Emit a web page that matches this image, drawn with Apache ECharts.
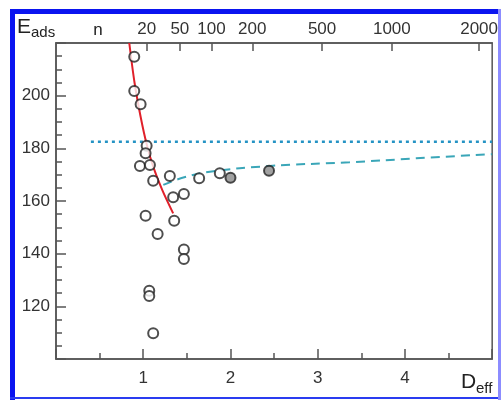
<!DOCTYPE html>
<html>
<head>
<meta charset="utf-8">
<style>
  html, body { margin: 0; padding: 0; background: #fff; }
  #chart { width: 501px; height: 400px; }
</style>
<script src="https://cdn.jsdelivr.net/npm/echarts@6/dist/echarts.min.js"></script>
</head>
<body>
<div id="chart"></div>
<script>
// open circles: D_eff / E_ads
var openD = [0.897, 0.897, 0.97, 1.039, 1.027, 0.962, 1.077, 1.114, 1.305, 1.641, 1.343, 1.466,
  1.027, 1.355, 1.165, 1.466, 1.466, 1.069, 1.069, 1.114, 1.878]
var openE = [214.8, 201.8, 196.7, 181.0, 178.1, 173.3, 173.7, 167.7, 169.5, 168.6, 161.4, 162.7,
  154.4, 152.5, 147.5, 141.6, 138.0, 125.9, 123.9, 109.8, 170.5]
// filled (gray) circles
var grayD = [2.0, 2.442]
var grayE = [168.8, 171.5]
// red curve
var redD = [0.84, 0.90, 0.97, 1.04, 1.12, 1.22, 1.343]
var redE = [220, 205, 192, 181.5, 172.5, 164, 155.3]
// cyan dashed curve
var cyanD = [1.23, 1.45, 1.763, 2.45, 3.365, 4.13, 5.0]
var cyanE = [166.1, 168.8, 171.1, 173.3, 174.7, 176.2, 177.8]
// dotted horizontal line
var limitE = 182.5
var limitD = [0.4, 5]
// top axis: n labels and their D_eff positions
var nLabels = ['20', '50', '100', '200', '500', '1000', '2000']
var nPos = [1.039, 1.42, 1.782, 2.25, 3.05, 3.85, 4.85]

function pairs(xs, ys) {
  return xs.map(function (x, i) { return [x, ys[i]] })
}

(function () {
  var font = 'Liberation Sans, Arial, sans-serif'
  var axisColor = '#555'
  var option = {
    animation: false,
    grid: {
      left: 56, right: 7, top: 43, bottom: 41,
      show: true, borderColor: axisColor, borderWidth: 1.5
    },
    xAxis: [
      {
        type: 'value', min: 0, max: 5, interval: 1,
        axisLine: { onZero: false, lineStyle: { color: axisColor, width: 1.5 } },
        axisTick: { inside: true, length: 10, lineStyle: { color: axisColor, width: 1.5 } },
        minorTick: { show: true, splitNumber: 2, length: 6, lineStyle: { color: axisColor, width: 1.5 } },
        splitLine: { show: false },
        axisLabel: {
          margin: 11, color: '#333', fontSize: 17, fontFamily: font,
          formatter: function (v) { return (v === 0 || v === 5) ? '' : v }
        }
      },
      {
        type: 'value', min: 0, max: 5, position: 'top',
        axisLine: { onZero: false, lineStyle: { color: axisColor, width: 1.5 } },
        axisTick: { inside: true, length: 8, customValues: nPos, lineStyle: { color: axisColor, width: 1.5 } },
        splitLine: { show: false },
        axisLabel: {
          margin: 5, color: '#333', fontSize: 17, fontFamily: font,
          customValues: nPos,
          formatter: function (v) {
            var i = nPos.indexOf(v)
            return i >= 0 ? nLabels[i] : ''
          }
        }
      }
    ],
    yAxis: {
      type: 'value', min: 100, max: 220, interval: 20,
      axisLine: { show: true, onZero: false, lineStyle: { color: axisColor, width: 1.5 } },
      axisTick: { show: true, inside: true, length: 10, lineStyle: { color: axisColor, width: 1.5 } },
      minorTick: { show: true, splitNumber: 4, length: 6, lineStyle: { color: axisColor, width: 1.5 } },
      splitLine: { show: false },
      axisLabel: {
        margin: 6, color: '#333', fontSize: 17, fontFamily: font,
        formatter: function (v) { return (v === 100 || v === 220) ? '' : v }
      }
    },
    series: [
      {
        type: 'line', data: pairs(limitD, [limitE, limitE]), symbol: 'none',
        lineStyle: { color: '#2593c4', width: 2.5, type: [3, 4] }, z: 1
      },
      {
        type: 'line', data: pairs(cyanD, cyanE), symbol: 'none', smooth: 0.4,
        lineStyle: { color: '#3aa6b8', width: 2, type: [9, 6] }, z: 1
      },
      {
        type: 'line', data: pairs(redD, redE), symbol: 'none', smooth: 0.3,
        lineStyle: { color: '#e0202a', width: 2 }, z: 2
      },
      {
        type: 'scatter', data: pairs(openD, openE), symbol: 'circle', symbolSize: 10,
        itemStyle: { color: '#fff', borderColor: '#222', borderWidth: 2 }, z: 5
      },
      {
        type: 'scatter', data: pairs(grayD, grayE), symbol: 'circle', symbolSize: 10,
        itemStyle: { color: '#8a8a8a', borderColor: '#222', borderWidth: 2 }, z: 5
      }
    ],
    graphic: [
      // blue frame
      { type: 'rect', shape: { x: 10, y: 9, width: 5, height: 391 }, style: { fill: '#0a14f0' } },
      { type: 'rect', shape: { x: 10, y: 9, width: 491, height: 5 }, style: { fill: '#0a14f0' } },
      { type: 'rect', shape: { x: 10, y: 397, width: 491, height: 2 }, style: { fill: '#2a3cf0' } },
      { type: 'rect', shape: { x: 498, y: 9, width: 3, height: 391 }, style: { fill: '#8c8cff' } },
      // axis titles
      { type: 'text', x: 17, y: 27, style: { text: 'E', fontSize: 21, fontFamily: font, fill: '#222', verticalAlign: 'middle' } },
      { type: 'text', x: 31, y: 33, style: { text: 'ads', fontSize: 15, fontFamily: font, fill: '#222', verticalAlign: 'middle' } },
      { type: 'text', x: 98, y: 30, style: { text: 'n', fontSize: 17, fontFamily: font, fill: '#222', align: 'center', verticalAlign: 'middle' } },
      { type: 'text', x: 461, y: 382, style: { text: 'D', fontSize: 21, fontFamily: font, fill: '#222', verticalAlign: 'middle' } },
      { type: 'text', x: 476, y: 389, style: { text: 'eff', fontSize: 15, fontFamily: font, fill: '#222', verticalAlign: 'middle' } }
    ]
  }
  var myChart = echarts.init(document.getElementById('chart'))
  myChart.setOption(option)
})();
</script>
</body>
</html>
